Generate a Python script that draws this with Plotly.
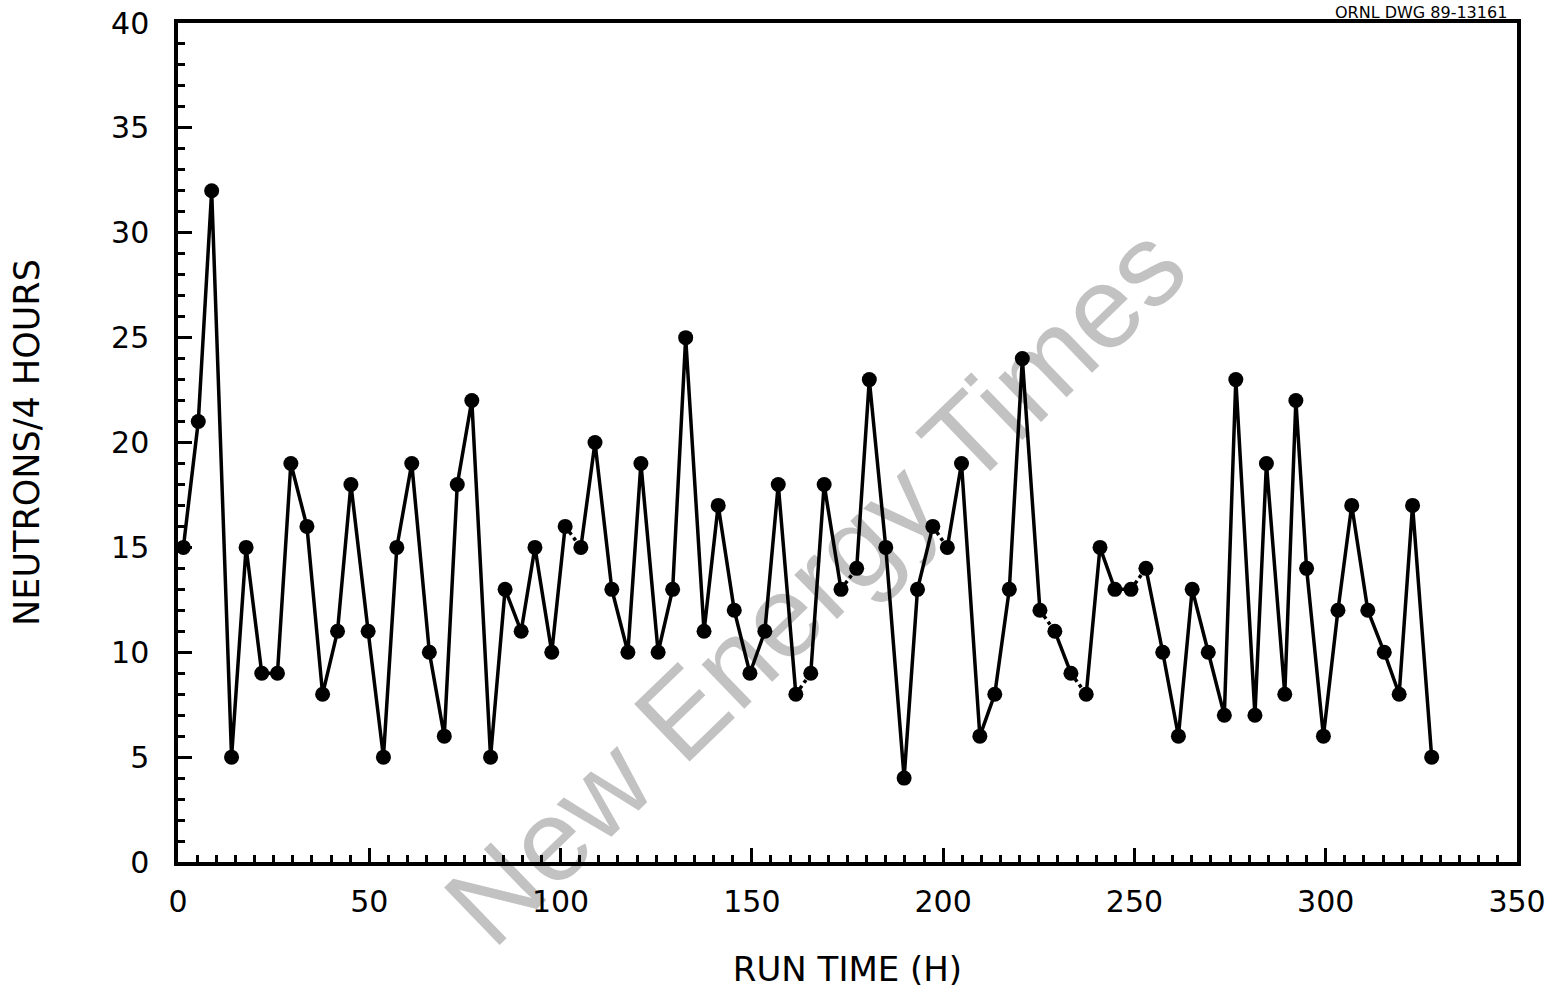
import plotly.graph_objects as go

# ---- data ----
run_time_h = [1.4, 5.3, 8.8, 14.0, 17.8, 21.9, 26.0, 29.5, 33.7, 37.8,
              41.7, 45.2, 49.7, 53.7, 57.2, 61.1, 65.7, 69.6, 73.0, 76.8,
              81.7, 85.5, 89.7, 93.3, 97.7, 101.2, 105.3, 109.0, 113.4, 117.6,
              121.0, 125.5, 129.3, 132.7, 137.5, 141.2, 145.4, 149.5, 153.4, 156.9,
              161.5, 165.4, 168.9, 173.3, 177.4, 180.7, 185.0, 189.8, 193.3, 197.3,
              201.1, 204.8, 209.6, 213.5, 217.3, 220.7, 225.3, 229.2, 233.4, 237.4,
              241.0, 244.9, 249.1, 253.0, 257.4, 261.5, 265.1, 269.3, 273.5, 276.5,
              281.5, 284.5, 289.3, 292.2, 295.0, 299.4, 303.2, 306.8, 311.0, 315.3,
              319.2, 322.7, 327.7]
neutrons_per_4h = [15, 21, 32, 5, 15, 9, 9, 19, 16, 8,
                   11, 18, 11, 5, 15, 19, 10, 6, 18, 22,
                   5, 13, 11, 15, 10, 16, 15, 20, 13, 10,
                   19, 10, 13, 25, 11, 17, 12, 9, 11, 18,
                   8, 9, 18, 13, 14, 23, 15, 4, 13, 16,
                   15, 19, 6, 8, 13, 24, 12, 11, 9, 8,
                   15, 13, 13, 14, 10, 6, 13, 10, 7, 23,
                   7, 19, 8, 22, 14, 6, 12, 17, 12, 10,
                   8, 17, 5]
# index of points whose connection to the next point is drawn dotted
dotted_after = [25, 40, 43, 49, 56, 58, 62]

x_ticks = [0, 50, 100, 150, 200, 250, 300, 350]
y_ticks = [0, 5, 10, 15, 20, 25, 30, 35, 40]

assert len(run_time_h) == len(neutrons_per_4h)

# solid connections (broken where the dotted ones are)
sx, sy = [], []
for i, (xv, yv) in enumerate(zip(run_time_h, neutrons_per_4h)):
    sx.append(xv)
    sy.append(yv)
    if i in dotted_after:
        sx.append(None)
        sy.append(None)

dx, dy = [], []
for i in dotted_after:
    dx += [run_time_h[i], run_time_h[i + 1], None]
    dy += [neutrons_per_4h[i], neutrons_per_4h[i + 1], None]

FONT = "DejaVu Sans"

fig = go.Figure()
fig.add_trace(go.Scatter(x=dx, y=dy, mode="lines",
                         line=dict(color="black", width=3.5, dash="dot"),
                         hoverinfo="skip", showlegend=False))
fig.add_trace(go.Scatter(x=sx, y=sy, mode="lines+markers",
                         line=dict(color="black", width=3.5),
                         marker=dict(color="black", size=15, symbol="circle"),
                         showlegend=False))

axis_common = dict(
    showline=True, linecolor="black", linewidth=3.5, mirror=True,
    showgrid=False, zeroline=False, automargin=False,
    ticks="inside", tickcolor="black", tickwidth=3, ticklen=14,
    tickfont=dict(family=FONT, size=30, color="black"),
)

fig.update_xaxes(
    range=[0, 350], tickvals=x_ticks, ticklabelstandoff=10,
    minor=dict(dtick=5, ticks="inside", ticklen=7, tickwidth=2.5, tickcolor="black"),
    title=dict(text="RUN TIME (H)", font=dict(family=FONT, size=34, color="black"),
               standoff=40),
    **axis_common,
)
fig.update_yaxes(
    range=[0, 40], tickvals=y_ticks, ticklabelstandoff=19,
    minor=dict(dtick=1, ticks="inside", ticklen=7, tickwidth=2.5, tickcolor="black"),
    title=dict(text="NEUTRONS/4 HOURS", font=dict(family=FONT, size=35, color="black"),
               standoff=62),
    **axis_common,
)

# watermark, placed beneath the data
fig.add_shape(type="rect", xref="paper", yref="paper",
              x0=0.37, x1=0.57, y0=0.24, y1=0.44,
              line=dict(width=0), fillcolor="rgba(0,0,0,0)", layer="below",
              label=dict(text="New Energy Times", textangle=-44,
                         textposition="middle center",
                         font=dict(family="Liberation Sans", size=116, color="#c2c2c2")))

# drawing number above the top-right corner of the frame
fig.add_annotation(text="ORNL DWG 89-13161", xref="paper", yref="paper",
                   x=0.993, y=1.0, xanchor="right", yanchor="bottom", yshift=0,
                   showarrow=False, borderpad=0,
                   font=dict(family=FONT, size=16, color="black"))

fig.update_layout(
    width=1553, height=993,
    margin=dict(l=178, r=36, t=23, b=131),
    paper_bgcolor="white", plot_bgcolor="white",
)

fig.write_html("out.html", config={"displayModeBar": False},
               post_script="document.body.style.margin='0px';")
